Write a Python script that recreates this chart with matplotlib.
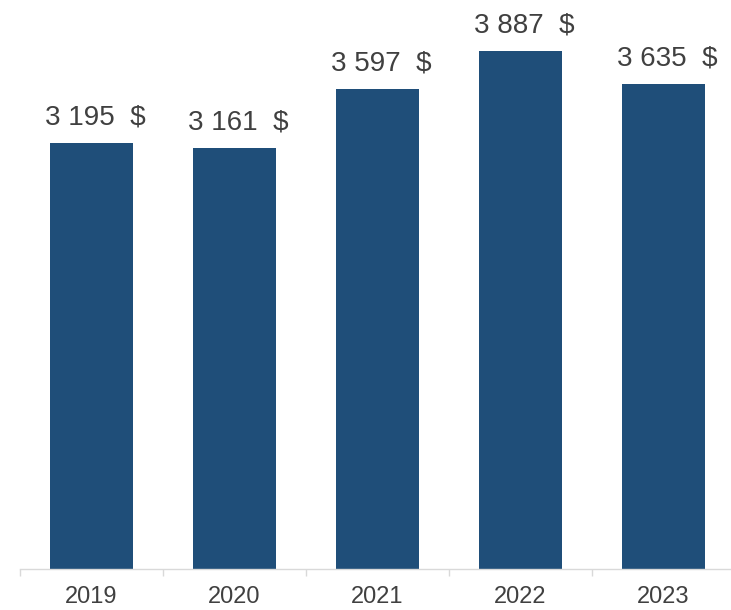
import numpy as np
import matplotlib.pyplot as plt
from matplotlib.ticker import FixedLocator

years = ["2019", "2020", "2021", "2022", "2023"]
values = [3195, 3161, 3597, 3887, 3635]
labels = ["3 195  $", "3 161  $", "3 597  $", "3 887  $", "3 635  $"]

plt.rcParams['font.family'] = ['Liberation Sans', 'DejaVu Sans']

fig = plt.figure(figsize=(7.31, 6.10), dpi=100)
ax = fig.add_axes([20/731, 41/610, 715/731, 569/610])

x = np.arange(len(years))
bars = ax.bar(x, values, width=0.58, color='#1F4E79')

for xi, v, lab in zip(x, values, labels):
    ax.annotate(lab, (xi, v), xytext=(3, 9), textcoords='offset points',
                ha='center', va='bottom', fontsize=20, color='#404040')

ax.set_xlim(-0.5, len(years) - 0.5)
ax.set_ylim(0, 4268)
ax.set_xticks(x)
ax.set_xticklabels(years)
ax.xaxis.set_minor_locator(FixedLocator(np.arange(-0.5, len(years), 1.0)))
ax.tick_params(axis='x', which='major', length=0, pad=12, labelsize=17, labelcolor='#404040')
ax.tick_params(axis='x', which='minor', length=5, color='#D9D9D9', width=1)
ax.set_yticks([])

for side in ['top', 'right', 'left']:
    ax.spines[side].set_visible(False)
ax.spines['bottom'].set_color('#D9D9D9')
ax.spines['bottom'].set_linewidth(1)

fig.savefig("out.png", dpi=100)
